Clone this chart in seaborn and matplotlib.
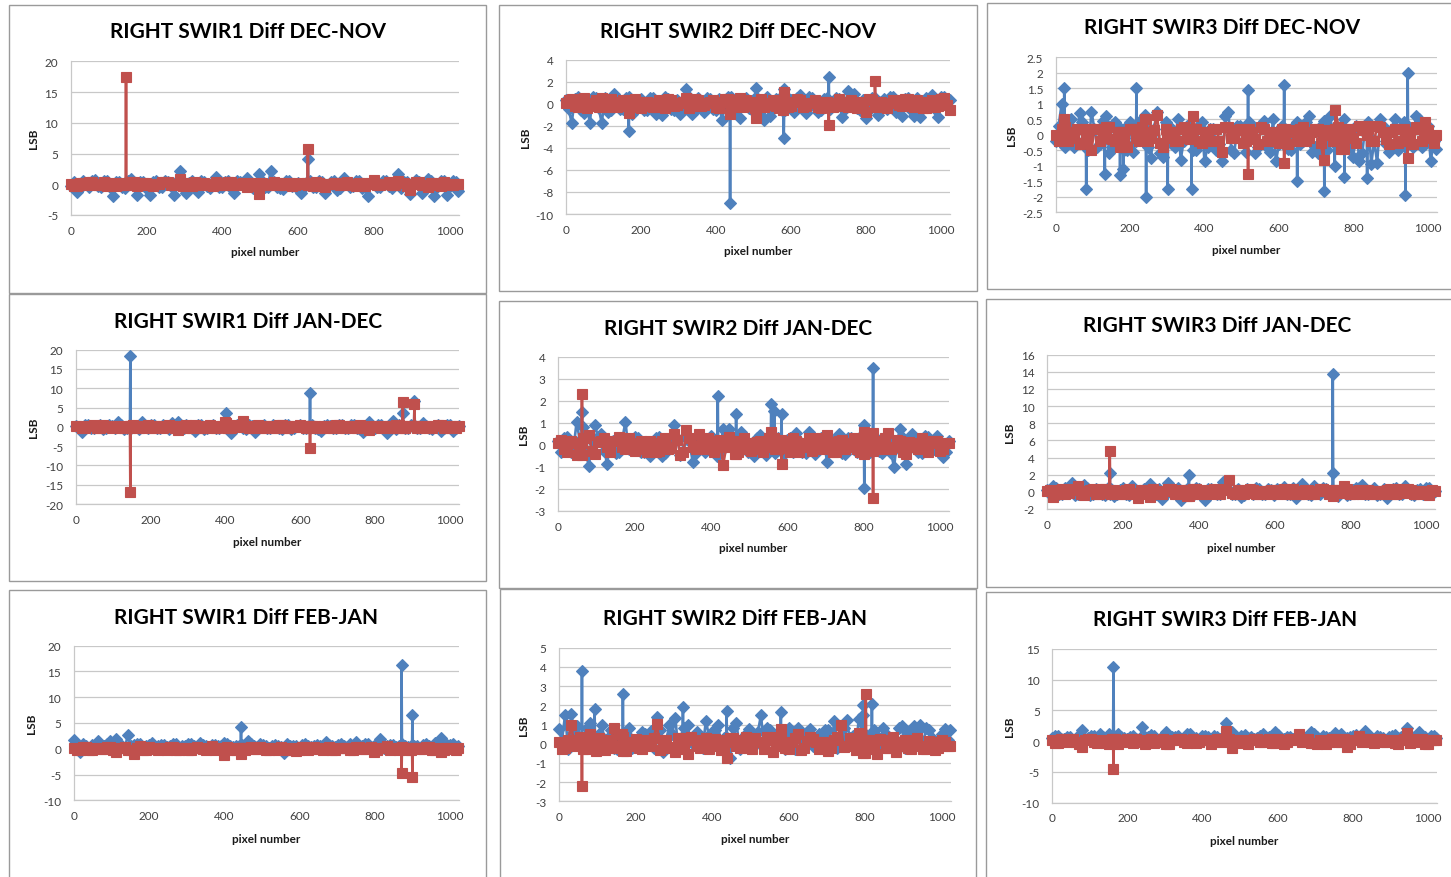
import matplotlib
matplotlib.use("Agg")
import pandas as pd
import seaborn as sns
import matplotlib.pyplot as plt
from matplotlib.patches import Rectangle

# ---------------------------------------------------------------------------
# Data: per-pixel differences (LSB) for the two detector halves
# (blue = even readout, red = odd readout).  The line is sampled on two
# interleaved pixel grids; the "stem" lists hold the isolated outliers
# together with their immediate neighbours.
# ---------------------------------------------------------------------------
PIXEL_GRID = [
    0, 16, 32, 48, 64, 80, 96, 112, 128, 144, 160, 176, 192,
    208, 224, 240, 256, 272, 288, 304, 320, 336, 352, 368, 384, 400,
    416, 432, 448, 464, 480, 496, 512, 528, 544, 560, 576, 592, 608,
    624, 640, 656, 672, 688, 704, 720, 736, 752, 768, 784, 800, 816,
    832, 848, 864, 880, 896, 912, 928, 944, 960, 976, 992, 1008, 1023,
]
PIXEL_MID = [
    8, 24, 40, 56, 72, 88, 104, 120, 136, 152, 168, 184, 200, 216, 232, 248,
    264, 280, 296, 312, 328, 344, 360, 376, 392, 408, 424, 440, 456, 472, 488, 504,
    520, 536, 552, 568, 584, 600, 616, 632, 648, 664, 680, 696, 712, 728, 744, 760,
    776, 792, 808, 824, 840, 856, 872, 888, 904, 920, 936, 952, 968, 984, 1000, 1016,
]
X_TICKS = [0, 200, 400, 600, 800, 1000]

# SWIR1 DEC-NOV
s1_dn_blue = [
    -0.3, -1.3, 0.6, -0.5, 0.7, -0.4, 0.5, -1.9, 0.4, -0.6, 0.9, -1.7, 0.3,
    -1.8, 0.6, -0.5, 0.4, -1.8, 2.2, -1.4, 0.5, -1.3, 0.3, -0.6, 1.2, -0.4,
    0.6, -1.4, 0.4, 1.0, -0.6, 1.6, -0.5, 2.2, -0.4, -0.8, 0.5, -0.3, -1.5,
    0.4, -0.5, 0.6, -1.4, 0.3, -1.0, 1.0, -0.4, 0.5, -0.6, -1.9, 0.4, -0.5,
    0.5, -0.6, 1.6, 0.4, -1.6, 0.7, -1.4, 0.8, -1.9, 0.5, -1.8, 0.6, -1.1,
]
s1_dn_blue_mid = [
    0.4, -0.6, 0.2, 0.5, -0.3, 0.6, -0.5, 0.3, -0.4, 0.5, -0.2, 0.4, -0.6, 0.3, -0.5, 0.6,
    -0.3, 0.5, -0.6, 0.2, -0.4, 0.6, -0.3, 0.4, -0.5, 0.3, -0.6, 0.5, -0.2, 0.4, -0.5, 0.6,
    -0.4, 0.3, -0.6, 0.5, -0.3, 0.2, -0.5, 0.6, -0.4, 0.3, -0.2, 0.5, -0.6, 0.4, -0.3, 0.6,
    -0.5, 0.2, -0.4, 0.6, -0.3, 0.5, -0.6, 0.4, -0.2, 0.3, -0.5, 0.6, -0.4, 0.5, -0.3, 0.4,
]
s1_dn_red = [
    0.0, -0.3, 0.2, 0.3, -0.2, 0.1, -0.3, 0.2, -0.2, 0.1, 0.3, -0.3, 0.2,
    -0.2, 0.1, 0.3, 0.4, -0.2, 0.9, 0.2, -0.3, 0.1, 0.2, -0.2, 0.3, -0.1,
    0.3, -0.2, 0.1, -0.5, 0.2, -1.6, 0.1, -0.2, 0.2, -0.1, 0.2, -0.2, 0.1,
    0.2, -0.3, 0.2, -0.4, 0.1, 0.2, -0.2, 0.1, -0.3, 0.2, 0.1, 0.7, -0.2,
    0.1, -0.2, 0.6, 0.2, -1.0, 0.3, -0.2, -0.5, 0.2, -0.3, 0.1, -0.2, 0.0,
]
s1_dn_red_mid = [
    -0.3, 0.2, -0.1, 0.3, -0.2, 0.3, 0.1, -0.3, 0.2, -0.2, 0.3, -0.1, 0.2, -0.3, 0.1, 0.3,
    -0.2, 0.1, -0.3, 0.2, 0.3, -0.2, 0.1, -0.3, 0.2, -0.1, 0.3, -0.2, 0.2, -0.3, 0.1, 0.2,
    -0.2, 0.3, -0.1, 0.2, -0.3, 0.2, 0.1, -0.2, 0.3, -0.3, 0.1, 0.2, -0.2, 0.3, -0.1, 0.2,
    -0.3, 0.2, -0.2, 0.1, 0.3, -0.2, 0.2, -0.3, 0.1, 0.3, -0.2, 0.2, -0.1, 0.3, -0.2, 0.1,
]
s1_dn_stem_px = [145, 146, 147, 625, 626, 627]
s1_dn_stem_blue = [0.2, 0.3, -0.2, 0.1, 4.1, 0.2]
s1_dn_stem_red = [0.1, 17.5, -0.1, 0.2, 5.8, -0.1]

# SWIR2 DEC-NOV
s2_dn_blue = [
    0.3, -1.75, 0.6, -0.8, -1.75, 0.5, -1.75, -0.7, 0.9, -0.5, 0.5, -0.9, 0.3,
    -0.6, 0.5, -0.9, -1.0, 0.4, -0.6, -0.9, 1.3, -0.9, 0.5, -0.7, 0.4, -0.6,
    -1.5, 0.6, -0.5, -1.3, 0.5, -0.6, 0.4, -1.5, -1.1, 0.4, -0.6, 0.5, -0.7,
    0.8, -0.8, 0.5, -0.7, 0.4, -0.5, 0.5, -1.2, 1.2, 0.9, -0.6, -1.3, 0.5,
    -1.0, 0.4, 0.6, -0.7, -1.1, 0.5, -1.1, -1.2, 0.5, 0.8, -1.2, 0.6, 0.3,
]
s2_dn_blue_mid = [
    -0.5, 0.4, -0.6, 0.3, 0.6, -0.4, 0.5, -0.6, 0.2, -0.5, 0.6, -0.3, 0.4, -0.6, 0.5, -0.2,
    0.6, -0.5, 0.3, -0.4, 0.6, -0.6, 0.2, 0.5, -0.5, 0.4, -0.3, 0.6, -0.6, 0.3, -0.4, 0.5,
    -0.2, 0.6, -0.5, 0.4, -0.6, 0.3, 0.5, -0.4, 0.6, -0.3, -0.6, 0.5, -0.2, 0.4, -0.5, 0.6,
    -0.4, 0.3, -0.6, 0.5, 0.2, -0.5, 0.6, -0.3, 0.4, -0.6, 0.5, -0.4, 0.3, -0.5, 0.6, -0.2,
]
s2_dn_red = [
    0.1, 0.4, -0.3, 0.5, -0.2, 0.3, 0.5, -0.3, 0.2, -0.2, 0.3, -0.3, 0.2,
    -0.2, 0.1, -0.3, 0.2, 0.4, -0.2, 0.1, 0.5, -0.2, 0.3, -0.1, 0.2, -0.3,
    0.2, 0.4, -0.3, 0.5, 0.3, -0.2, 0.2, -0.3, 0.1, -0.2, 0.3, -0.3, 0.2,
    0.3, -0.2, 0.1, -0.3, 0.2, 0.1, -0.2, 0.2, -0.3, 0.1, 0.2, -0.7, 0.3,
    0.2, -0.3, 0.1, 0.3, -0.2, 0.4, -0.3, 0.2, -0.4, 0.3, -0.2, 0.5, -0.6,
]
s2_dn_red_mid = [
    0.3, -0.2, 0.4, -0.4, 0.1, -0.3, 0.2, 0.4, -0.3, 0.3, -0.1, 0.4, -0.4, 0.2, -0.3, 0.3,
    -0.4, 0.3, -0.1, 0.2, -0.4, 0.4, -0.2, 0.1, 0.3, -0.4, 0.4, -0.2, 0.3, -0.3, 0.2, -0.4,
    0.4, -0.1, 0.3, -0.4, 0.2, -0.2, 0.4, -0.3, 0.1, 0.3, -0.4, 0.2, -0.3, 0.4, -0.2, 0.3,
    -0.4, 0.1, 0.4, -0.3, 0.2, -0.4, 0.3, -0.1, 0.4, -0.2, 0.3, -0.4, 0.2, -0.3, 0.4, -0.1,
]
s2_dn_stem_px = [167, 168, 169, 437, 438, 439, 507, 508, 509,
                 580, 581, 583, 585, 700, 701, 702, 823, 824, 825]
s2_dn_stem_blue = [0.3, -2.5, 0.2, 0.2, -9.0, 0.3, 0.1, 1.4, -0.2,
                   0.2, -3.1, 1.3, 0.1, 0.1, 2.4, -0.2, 0.2, 0.3, -0.1]
s2_dn_stem_red = [0.1, -0.8, 0.2, 0.1, -0.9, 0.2, 0.1, -1.3, 0.0,
                  -0.6, 0.1, 1.1, 0.2, 0.0, -1.9, 0.1, 0.1, 2.1, -0.2]

# SWIR3 DEC-NOV
s3_dn_blue = [
    -0.2, 1.0, 0.3, -0.4, 0.7, -0.3, 0.75, -0.4, 0.45, -0.6, 0.4, -0.3, -0.5,
    -0.55, 0.3, 0.65, -0.75, 0.75, -0.7, 0.3, -0.4, -0.8, 0.3, -0.5, 0.3, -0.85,
    0.2, -0.5, -0.85, 0.75, -0.6, 0.3, -0.55, 0.3, -0.4, 0.45, -0.55, -0.85, 0.3,
    -0.45, 0.3, -0.3, 0.4, -0.55, -0.6, 0.45, 0.6, -0.3, 0.3, -0.4, -0.7, -0.85,
    0.3, -0.95, -0.9, 0.3, -0.55, 0.5, -0.3, 0.3, -0.4, 0.5, -0.3, -0.85, -0.45,
]
s3_dn_blue_mid = [
    0.3, -0.4, 0.5, -0.2, 0.4, -0.5, 0.2, -0.3, 0.6, -0.4, 0.3, -0.5, 0.4, -0.2, 0.5, -0.4,
    0.2, -0.6, 0.4, -0.3, 0.5, -0.2, 0.3, -0.5, 0.4, -0.4, 0.2, -0.3, 0.6, -0.5, 0.3, -0.2,
    0.4, -0.6, 0.3, -0.4, 0.5, -0.3, 0.2, -0.5, 0.4, -0.2, 0.6, -0.4, 0.3, -0.5, 0.2, -0.3,
    0.5, -0.4, 0.3, -0.6, 0.4, -0.2, 0.5, -0.3, 0.2, -0.5, 0.4, -0.3, 0.6, -0.4, 0.3, -0.2,
]
s3_dn_red = [
    0.0, 0.2, -0.2, 0.1, -0.3, 0.2, -0.5, 0.2, -0.1, 0.25, -0.2, 0.1, -0.4,
    0.2, -0.2, 0.5, -0.1, 0.65, -0.4, 0.1, -0.2, 0.2, -0.1, 0.6, -0.2, 0.1,
    -0.2, 0.2, -0.55, 0.25, -0.1, 0.2, -0.2, 0.1, -0.3, 0.2, 0.1, -0.2, 0.2,
    -0.3, 0.1, 0.2, -0.2, 0.1, 0.2, -0.8, 0.1, 0.8, -0.45, 0.2, -0.1, 0.3,
    0.3, -0.2, 0.3, 0.1, -0.3, 0.2, -0.2, 0.1, -0.3, 0.2, 0.4, -0.1, 0.0,
]
s3_dn_red_mid = [
    -0.2, 0.25, -0.1, 0.2, -0.25, 0.1, 0.2, -0.2, 0.25, -0.15, 0.1, -0.25, 0.2, -0.1, 0.25, -0.2,
    0.15, -0.25, 0.2, 0.1, -0.2, 0.25, -0.15, 0.2, -0.25, 0.1, 0.2, -0.2, 0.25, -0.1, 0.15, -0.25,
    0.2, -0.15, 0.25, -0.2, 0.1, -0.25, 0.2, 0.15, -0.2, 0.25, -0.1, 0.2, -0.25, 0.15, -0.2, 0.25,
    -0.1, 0.2, -0.25, 0.15, 0.2, -0.2, 0.25, -0.15, 0.1, -0.25, 0.2, -0.1, 0.25, -0.2, 0.15, -0.25,
]
s3_dn_stem_px = [22, 23, 24, 81, 82, 83, 131, 132, 133, 172, 173, 174,
                 181, 182, 183, 216, 217, 218, 242, 243, 244, 300, 301, 302,
                 364, 365, 366, 516, 517, 518, 613, 614, 615, 648, 649, 650,
                 721, 722, 723, 749, 750, 751, 775, 776, 777, 836, 837, 838,
                 939, 940, 941, 945, 946, 947]
s3_dn_stem_blue = [0.1, 1.5, -0.1, 0.2, -1.75, 0.1, 0.1, -1.25, 0.2, 0.1, -1.3, 0.1,
                   0.0, -1.1, 0.2, -0.1, 1.5, 0.1, 0.1, -2.0, 0.2, 0.1, -1.75, 0.1,
                   0.2, -1.75, 0.0, 0.1, 1.45, 0.0, 0.1, 1.6, 0.0, 0.0, -1.5, 0.1,
                   0.1, -1.8, 0.1, 0.1, -1.0, 0.1, 0.0, -1.35, 0.1, 0.1, -1.4, 0.0,
                   0.1, -1.95, 0.0, 0.1, 2.0, 0.1]
s3_dn_stem_red = [0.1, 0.5, 0.2, 0.1, -0.2, 0.1, 0.2, 0.0, -0.1, -0.1, -0.4, 0.1,
                  0.1, -0.3, 0.0, 0.1, 0.2, -0.1, 0.5, 0.1, 0.0, 0.0, -0.1, 0.1,
                  0.1, 0.0, 0.2, 0.0, -1.25, 0.1, 0.1, -0.9, 0.0, 0.1, -0.1, 0.0,
                  0.1, 0.0, 0.1, 0.1, 0.2, 0.1, 0.1, -0.45, 0.0, 0.3, 0.0, 0.1,
                  0.1, -0.2, 0.1, -0.1, -0.75, 0.1]

# SWIR1 JAN-DEC
s1_jd_blue = [
    0.3, -1.3, 0.4, -0.3, 0.5, -0.4, 0.3, 1.3, -0.5, 0.4, 0.3, 1.2, -0.2,
    0.4, -0.3, 0.3, 1.0, 1.2, -0.4, 0.3, -1.2, 0.4, -0.3, 0.5, -0.4, 0.3,
    -1.5, 0.4, -0.3, 0.5, -1.3, 0.3, -0.4, 0.5, -0.3, 0.4, -0.5, 0.3, -0.4,
    0.3, -0.4, -1.2, 0.5, -0.3, 0.4, -0.3, 0.5, -0.4, -1.3, 1.2, -0.3, 0.4,
    -1.5, 1.5, 0.4, -0.3, 0.4, -0.3, 1.0, -0.4, 0.3, -1.0, 0.4, -1.0, 0.3,
]
s1_jd_blue_mid = [
    -0.4, 0.5, -0.2, 0.3, -0.5, 0.4, -0.3, 0.5, -0.4, 0.2, -0.5, 0.3, 0.5, -0.3, 0.4, -0.5,
    0.3, -0.4, 0.5, -0.2, 0.4, -0.5, 0.3, -0.3, 0.5, -0.4, 0.2, 0.4, -0.5, 0.3, -0.2, 0.5,
    -0.4, 0.3, -0.5, 0.4, -0.3, 0.5, -0.2, 0.4, -0.5, 0.3, 0.2, -0.4, 0.5, -0.3, 0.4, -0.5,
    0.3, -0.2, 0.5, -0.4, 0.4, -0.5, 0.3, -0.3, 0.5, -0.4, 0.2, -0.5, 0.4, -0.3, 0.5, -0.2,
]
s1_jd_red = [
    0.2, -0.3, 0.1, 0.4, -0.2, 0.3, -0.4, 0.2, -0.3, 0.1, 0.3, -0.2, 0.4,
    -0.3, 0.2, -0.1, 0.3, -0.8, 0.2, -0.3, 0.4, -0.2, 0.3, -0.4, 0.2, 1.2,
    -0.2, 0.3, 1.4, -0.3, 0.2, -0.4, 0.3, -0.2, 0.4, -0.3, 0.2, -0.1, 0.3,
    -0.2, 0.3, -0.4, 0.2, -0.3, 0.4, -0.2, 0.3, -0.4, 0.2, -0.8, 0.3, -0.2,
    0.3, -0.2, 0.4, -0.3, 0.2, -0.4, 0.3, -0.2, 0.3, 0.4, -0.3, 0.2, 0.1,
]
s1_jd_red_mid = [
    0.3, -0.4, 0.2, -0.3, 0.4, -0.1, 0.3, -0.4, 0.2, 0.4, -0.3, 0.1, -0.4, 0.3, -0.2, 0.4,
    -0.3, 0.2, 0.4, -0.4, 0.1, -0.3, 0.4, -0.2, 0.3, -0.4, 0.4, -0.1, 0.2, -0.3, 0.4, -0.4,
    0.3, -0.2, 0.4, -0.3, 0.1, 0.4, -0.4, 0.2, -0.3, 0.3, -0.4, 0.4, -0.2, 0.1, -0.3, 0.4,
    -0.4, 0.3, -0.1, 0.2, -0.4, 0.4, -0.3, 0.2, 0.3, -0.4, 0.1, -0.2, 0.4, -0.3, 0.3, -0.4,
]
s1_jd_stem_px = [145, 146, 147, 401, 402, 403, 625, 626, 627, 873, 874, 875, 904, 905, 906]
s1_jd_stem_blue = [0.3, 18.3, -0.2, 0.2, 3.7, -0.3, 0.2, 8.8, -0.3, 0.3, 3.7, 0.2, 0.2, 6.8, -0.1]
s1_jd_stem_red = [-0.2, -16.9, 0.3, 0.1, 0.9, -0.2, 0.1, -5.6, 0.2, 0.1, 6.4, -0.2, 0.3, 5.8, 0.1]

# SWIR2 JAN-DEC
s2_jd_blue = [
    0.2, 0.3, -0.3, 1.05, 0.8, -0.95, 0.9, 0.5, -0.85, 0.2, -0.3, 1.05, -0.2,
    0.3, -0.3, -0.5, 0.3, -0.5, 0.2, 0.9, -0.45, 0.3, -0.75, 0.2, -0.3, 0.4,
    -0.5, 0.75, 0.75, 0.3, 0.6, -0.3, -0.5, 0.45, -0.45, -0.2, 0.3, -0.4, 0.3,
    0.55, -0.3, 0.6, -0.4, 0.3, -0.75, 0.2, 0.5, -0.4, 0.3, -0.3, 0.9, -0.3,
    0.3, -0.35, 0.2, -1.0, 0.75, -0.85, 0.5, -0.3, 0.4, -0.2, 0.4, -0.55, 0.2,
]
s2_jd_blue_mid = [
    -0.3, 0.35, -0.15, 0.25, -0.35, 0.2, 0.35, -0.25, 0.1, -0.35, 0.3, -0.2, 0.35, -0.3, 0.15, -0.25,
    0.35, -0.35, 0.2, 0.3, -0.25, 0.15, -0.35, 0.35, -0.2, 0.25, -0.3, 0.1, 0.35, -0.35, 0.2, -0.15,
    0.3, -0.25, 0.35, -0.35, 0.15, 0.25, -0.3, 0.2, -0.35, 0.35, -0.1, 0.3, -0.25, 0.2, -0.35, 0.3,
    -0.2, 0.35, -0.3, 0.15, -0.25, 0.35, -0.35, 0.2, 0.3, -0.15, 0.25, -0.35, 0.35, -0.2, 0.1, -0.3,
]
s2_jd_red = [
    0.1, -0.2, 0.2, -0.45, 0.3, 0.45, -0.4, 0.2, -0.1, 0.2, 0.35, -0.2, 0.1,
    -0.2, 0.1, 0.2, -0.3, 0.2, -0.2, 0.5, -0.45, 0.7, -0.1, 0.5, -0.2, 0.2,
    0.1, -0.9, 0.35, -0.4, -0.2, 0.1, -0.2, 0.2, -0.1, 0.3, -0.2, 0.1, -0.3,
    0.2, -0.1, 0.3, -0.2, 0.1, 0.45, -0.3, 0.2, -0.2, 0.1, -0.2, 0.2, -0.1,
    0.2, -0.2, 0.55, -0.1, 0.2, -0.4, 0.1, -0.2, 0.2, 0.1, 0.2, -0.2, 0.1,
]
s2_jd_red_mid = [
    0.25, -0.3, 0.1, -0.2, 0.3, -0.25, 0.15, 0.3, -0.3, 0.2, -0.1, 0.3, -0.25, 0.2, -0.3, 0.1,
    -0.25, 0.3, -0.15, 0.25, -0.3, 0.3, -0.2, 0.1, 0.3, -0.3, 0.25, -0.1, 0.2, -0.3, 0.3, -0.25,
    0.15, -0.3, 0.3, -0.2, 0.25, -0.15, 0.3, -0.3, 0.1, -0.25, 0.3, -0.2, 0.15, -0.3, 0.25, -0.1,
    0.3, -0.3, 0.2, -0.25, 0.1, 0.3, -0.2, 0.25, -0.3, 0.15, -0.1, 0.3, -0.3, 0.2, -0.25, 0.1,
]
s2_jd_stem_px = [61, 62, 63, 417, 418, 419, 465, 466, 467, 557, 558, 559,
                 565, 566, 567, 584, 585, 586, 801, 802, 803, 824, 825, 826]
s2_jd_stem_blue = [0.2, 1.5, -0.2, 0.1, 2.25, -0.2, 0.1, 1.4, 0.2, 0.2, 1.85, 0.1,
                   0.2, 1.55, 0.1, 0.1, 1.4, 0.2, 0.3, -1.95, 0.2, 0.2, 3.5, 0.1]
s2_jd_stem_red = [-0.45, 2.3, 0.1, 0.2, 0.1, -0.1, -0.4, 0.1, 0.2, 0.1, 0.6, 0.2,
                  0.1, 0.3, -0.1, 0.1, -0.85, 0.2, 0.6, -0.4, 0.1, 0.1, -2.4, 0.55]

# SWIR3 JAN-DEC
s3_jd_blue = [
    0.2, 0.7, -0.3, 0.4, 1.0, -0.2, 0.8, -0.4, 0.3, -0.3, 0.4, -0.5, 0.2,
    -0.3, 0.7, -0.2, 0.3, 0.9, -0.3, -0.8, 1.0, 0.2, -0.9, 0.3, -0.4, 0.3,
    -1.0, 0.3, -0.3, 1.2, 0.2, -0.3, -0.6, 0.3, -0.2, 0.3, -0.3, 0.2, 0.3,
    0.6, -0.2, -0.7, 0.9, -0.3, 0.7, -0.2, 0.3, 0.2, -0.5, 0.3, -0.2, 0.4,
    0.8, -0.2, 0.5, -0.3, -0.7, 0.3, -0.2, 0.7, -0.3, 0.2, -0.2, 0.4, 0.1,
]
s3_jd_blue_mid = [
    -0.3, 0.4, -0.2, 0.3, -0.4, 0.2, 0.4, -0.3, 0.1, -0.4, 0.3, -0.2, 0.4, -0.4, 0.2, -0.3,
    0.4, -0.1, 0.3, -0.4, 0.2, 0.4, -0.3, -0.2, 0.4, -0.4, 0.3, 0.1, -0.3, 0.4, -0.2, 0.3,
    -0.4, 0.2, 0.4, -0.3, 0.3, -0.4, 0.1, -0.2, 0.4, -0.3, 0.3, -0.4, 0.2, 0.4, -0.1, -0.3,
    0.3, -0.4, 0.2, 0.4, -0.3, 0.1, -0.4, 0.3, -0.2, 0.4, -0.3, 0.2, -0.4, 0.3, 0.4, -0.2,
]
s3_jd_red = [
    0.1, -0.6, 0.2, -0.3, 0.3, 0.7, -0.4, 0.2, -0.2, 0.3, -0.1, 0.2, -0.3,
    0.2, -0.3, -0.7, 0.2, -0.6, 0.1, -0.2, 0.3, -0.3, 0.2, -0.5, 0.3, -0.2,
    0.2, -0.3, 0.1, 0.3, 1.35, -0.2, 0.2, -0.1, 0.2, -0.3, 0.1, 0.2, -0.2,
    0.3, -0.2, 0.1, -0.3, 0.2, -0.2, 0.3, 0.1, -0.2, 0.2, 0.7, -0.3, 0.1,
    -0.2, 0.2, -0.3, 0.1, 0.2, -0.2, 0.3, -0.1, 0.2, -0.3, 0.1, -0.4, 0.1,
]
s3_jd_red_mid = [
    0.2, -0.3, 0.3, -0.1, 0.25, -0.3, 0.1, 0.3, -0.2, 0.3, -0.3, 0.15, -0.25, 0.3, -0.1, 0.2,
    -0.3, 0.3, -0.2, 0.1, 0.3, -0.3, 0.2, -0.15, 0.3, -0.25, 0.1, 0.3, -0.3, 0.2, -0.1, 0.25,
    -0.3, 0.3, -0.2, 0.15, -0.3, 0.25, 0.1, -0.3, 0.3, -0.2, 0.2, -0.3, 0.1, 0.3, -0.25, 0.2,
    -0.1, 0.3, -0.3, 0.2, 0.25, -0.3, 0.1, -0.2, 0.3, -0.3, 0.15, 0.3, -0.2, 0.1, -0.3, 0.2,
]
s3_jd_stem_px = [164, 165, 166, 373, 374, 375, 753, 754, 755, 756]
s3_jd_stem_blue = [0.2, 2.25, -0.3, 0.1, 2.0, 0.2, 0.2, 13.7, 2.2, -0.1]
s3_jd_stem_red = [0.1, 4.8, 0.2, 0.2, -0.5, 0.1, 0.1, -0.5, 0.2, 0.1]

# SWIR1 FEB-JAN
s1_fj_blue = [
    1.7, -0.6, 0.5, 0.8, 1.5, 0.6, 1.6, 1.8, 0.5, 2.6, 0.7, 1.0, 0.6,
    1.1, 0.5, 0.7, 0.6, 1.0, 0.5, 0.9, 0.6, 1.2, 0.5, 0.8, 0.6, 1.1,
    0.6, 0.5, 0.7, 1.6, 0.6, 1.0, 0.5, 0.6, 0.5, -0.8, 0.6, 0.5, 0.8,
    0.5, 0.6, 0.5, 1.3, 0.5, 0.8, 0.5, 1.0, 1.4, 0.6, 1.0, 0.5, 1.8,
    0.6, 0.7, 0.5, 0.6, 0.5, 0.6, 0.8, 0.6, 1.1, 2.0, 0.7, 1.0, 0.6,
]
s1_fj_blue_mid = [
    0.3, 0.9, 0.2, 0.7, 0.4, 1.0, 0.3, 0.8, 0.2, 0.6, 0.9, 0.3, 0.7, 0.1, 0.8, 0.4,
    1.0, 0.2, 0.6, 0.9, 0.3, 0.7, 0.2, 0.8, 0.5, 1.0, 0.3, 0.6, 0.2, 0.9, 0.4, 0.7,
    0.1, 0.8, 0.3, 1.0, 0.5, 0.2, 0.9, 0.4, 0.7, 0.2, 0.8, 0.3, 1.0, 0.4, 0.6, 0.2,
    0.9, 0.3, 0.7, 0.1, 0.8, 0.4, 1.0, 0.3, 0.6, 0.2, 0.9, 0.4, 0.7, 0.3, 0.8, 0.2,
]
s1_fj_red = [
    0.1, -0.2, 0.3, -0.3, 0.2, -0.1, 0.3, -0.7, 0.2, -0.2, -1.0, 0.5, -0.2,
    0.2, -0.3, 0.1, 0.3, -0.2, 0.2, -0.3, 0.1, 0.2, -0.2, 0.5, -0.1, -1.2,
    0.2, -0.3, 0.1, 0.2, -0.1, 0.3, -0.2, 0.1, -0.3, 0.2, -0.2, -0.5, 0.3,
    -0.2, 0.3, -0.1, 0.2, -0.3, 0.1, 0.2, -0.2, 0.3, -0.1, 0.2, -0.6, 0.1,
    0.5, 0.2, -0.2, 0.1, -0.3, 0.2, -0.1, 0.3, -0.2, -0.6, 0.2, -0.1, 0.1,
]
s1_fj_red_mid = [
    -0.2, 0.3, -0.3, 0.2, -0.1, 0.3, -0.2, 0.1, 0.3, -0.3, 0.2, -0.2, 0.3, -0.1, 0.2, -0.3,
    0.3, -0.2, 0.1, -0.3, 0.3, -0.1, 0.2, -0.3, 0.1, 0.3, -0.2, 0.2, -0.3, 0.3, -0.1, 0.2,
    -0.3, 0.1, 0.3, -0.2, 0.2, -0.3, 0.3, -0.1, 0.2, -0.2, 0.3, -0.3, 0.1, 0.2, -0.2, 0.3,
    -0.1, 0.3, -0.3, 0.2, -0.2, 0.1, 0.3, -0.3, 0.2, -0.1, 0.3, -0.2, 0.1, -0.3, 0.2, -0.2,
]
s1_fj_stem_px = [444, 445, 446, 871, 872, 873, 900, 901, 902]
s1_fj_stem_blue = [0.6, 4.3, 0.5, 0.5, 16.3, 0.6, 0.6, 6.5, 0.5]
s1_fj_stem_red = [0.1, -1.0, 0.2, 0.2, -4.7, 0.1, 0.1, -5.4, 0.2]

# SWIR2 FEB-JAN
s2_fj_blue = [
    0.75, 1.5, 1.55, 0.9, 0.3, 1.1, 0.2, 1.0, 0.3, -0.2, 0.4, 0.5, -0.2,
    0.3, 0.5, 0.65, 1.4, -0.45, 1.0, 1.35, 0.3, 1.0, 0.2, 0.4, 1.2, 0.6,
    1.0, 0.3, -0.75, 1.1, 0.3, 0.75, 0.2, 1.5, 0.8, 0.3, 0.4, -0.3, 0.4,
    0.8, 0.3, 0.75, 0.2, 0.4, 0.7, 1.2, 0.3, 1.25, 0.4, 1.3, 0.5, 0.4,
    0.4, 0.8, 0.3, 0.2, 0.9, 0.6, 0.9, 1.0, 0.8, 0.3, 0.2, 0.75, 0.7,
]
s2_fj_blue_mid = [
    0.2, -0.3, 0.6, 0.1, 0.8, -0.2, 0.5, 0.0, 0.7, -0.3, 0.4, 0.8, -0.1, 0.6, 0.2, -0.2,
    0.7, 0.0, 0.5, -0.3, 0.8, 0.1, 0.6, -0.2, 0.4, 0.7, -0.1, 0.3, 0.8, -0.3, 0.5, 0.1,
    0.6, -0.2, 0.7, 0.0, 0.4, 0.8, -0.3, 0.2, 0.6, -0.1, 0.5, 0.7, 0.0, -0.2, 0.8, 0.3,
    -0.1, 0.6, 0.2, 0.7, -0.3, 0.5, 0.1, 0.8, -0.2, 0.4, 0.6, 0.0, 0.7, -0.1, 0.5, 0.2,
]
s2_fj_red = [
    0.1, -0.2, 0.95, 0.2, -0.3, 0.5, -0.4, 0.2, -0.2, 0.8, 0.5, -0.4, 0.1,
    -0.2, 0.2, -0.1, 1.05, 0.2, -0.2, -0.45, 0.3, -0.55, 0.2, -0.2, 0.3, -0.1,
    0.2, -0.2, 0.3, -0.1, 0.2, -0.2, 0.3, 0.1, 0.35, -0.45, 0.2, -0.2, 0.1,
    0.5, -0.2, 0.35, 0.1, -0.2, -0.4, 0.2, 0.95, -0.1, 0.2, 0.55, -0.3, 0.2,
    -0.55, 0.2, -0.2, -0.45, 0.1, -0.2, 0.2, -0.1, -0.25, 0.1, -0.2, 0.1, -0.1,
]
s2_fj_red_mid = [
    -0.3, 0.2, -0.1, 0.35, -0.25, 0.1, 0.3, -0.35, 0.2, -0.2, 0.35, -0.1, 0.25, -0.3, 0.1, 0.3,
    -0.35, 0.2, -0.15, 0.3, -0.25, 0.35, -0.1, 0.2, -0.3, 0.25, -0.35, 0.1, 0.3, -0.2, 0.35, -0.25,
    0.1, -0.3, 0.2, 0.35, -0.1, -0.25, 0.3, -0.35, 0.15, 0.25, -0.3, 0.1, -0.2, 0.35, -0.15, 0.3,
    -0.35, 0.2, 0.1, -0.3, 0.25, -0.2, 0.35, -0.1, 0.2, -0.3, 0.3, -0.25, 0.15, -0.35, 0.2, -0.1,
]
s2_fj_stem_px = [59, 60, 61, 92, 93, 94, 166, 167, 168, 323, 324, 325, 437, 438, 439,
                 579, 580, 581, 794, 795, 796, 801, 802, 803, 817, 818, 819]
s2_fj_stem_blue = [0.3, 3.8, 0.2, 0.2, 1.8, 0.3, 0.2, 2.6, 0.3, 0.3, 1.9, 0.2, 0.2, 1.7, 0.3,
                   0.3, 1.65, 0.2, 0.5, 2.0, 1.5, 0.3, 0.2, 0.4, 0.3, 2.05, 0.4]
s2_fj_stem_red = [0.1, -2.2, 0.2, 0.2, -0.1, 0.1, 0.5, -0.4, 0.2, 0.1, 0.2, -0.1, 0.1, -0.75, 0.2,
                  0.1, 0.75, 0.2, 0.2, 0.1, -0.5, -0.5, 2.6, 0.1, 0.2, 0.1, -0.2]

# SWIR3 FEB-JAN
s3_fj_blue = [
    0.5, 0.8, 0.3, 0.7, 0.4, 1.85, 0.5, 0.8, 1.2, 0.4, 0.6, 1.2, 0.5,
    0.7, 0.4, 2.25, 0.6, 0.8, 0.4, 1.5, 0.6, 0.8, 0.4, 1.2, 0.5, 0.9,
    0.6, 0.8, 0.4, 2.95, 1.5, 0.4, 1.0, 0.6, 0.5, 1.1, 0.6, 1.4, 0.5,
    0.7, 0.4, 0.8, 0.5, 1.4, 0.6, 0.8, 0.5, 1.3, 1.2, 0.5, 0.8, 0.6,
    1.7, 0.6, 0.8, 0.5, 0.7, 1.0, 0.6, 2.1, 0.5, 1.5, 0.6, 0.8, 0.5,
]
s3_fj_blue_mid = [
    0.9, 0.3, 0.7, 0.2, 1.0, 0.4, 0.8, 0.3, 0.6, 1.1, 0.2, 0.7, 0.4, 0.9, 0.3, 0.6,
    1.0, 0.2, 0.8, 0.4, 0.7, 0.3, 1.1, 0.5, 0.2, 0.9, 0.4, 0.7, 0.3, 1.0, 0.2, 0.8,
    0.5, 0.3, 0.9, 0.2, 0.7, 1.0, 0.4, 0.6, 0.3, 0.8, 0.2, 1.1, 0.4, 0.7, 0.3, 0.9,
    0.2, 0.6, 1.0, 0.3, 0.8, 0.4, 0.7, 0.2, 0.9, 0.5, 0.3, 1.0, 0.4, 0.7, 0.2, 0.8,
]
s3_fj_red = [
    0.1, -0.3, 0.4, 0.2, -0.2, -0.9, 0.3, -0.2, 0.2, -0.3, 0.3, -0.5, 0.2,
    -0.2, 0.3, -0.1, 0.2, -0.3, 0.2, -0.5, 0.1, 0.3, -0.2, 0.2, -0.3, 0.1,
    0.2, -0.2, 0.3, 1.7, -1.2, 0.2, -0.3, 0.1, 0.3, -0.2, 0.4, -0.3, 0.2,
    -0.2, 0.3, 1.2, 0.2, -0.3, -0.5, 0.2, -0.2, 0.3, -0.1, -0.9, 0.2, 0.8,
    0.3, -0.2, 0.4, -0.1, 0.2, -0.3, 0.2, 1.3, 0.4, -0.2, -0.4, 0.2, 0.1,
]
s3_fj_red_mid = [
    -0.3, 0.4, -0.2, 0.3, -0.4, 0.1, 0.4, -0.3, 0.2, -0.4, 0.3, -0.1, 0.4, -0.3, 0.2, -0.4,
    0.3, -0.2, 0.4, -0.4, 0.1, 0.3, -0.3, 0.4, -0.2, 0.2, -0.4, 0.3, -0.1, 0.4, -0.3, 0.2,
    -0.4, 0.4, -0.2, 0.1, -0.3, 0.4, -0.4, 0.3, 0.2, -0.2, 0.4, -0.3, 0.1, -0.4, 0.3, -0.2,
    0.4, -0.4, 0.2, -0.1, 0.3, -0.3, 0.4, -0.2, 0.1, -0.4, 0.3, -0.3, 0.2, 0.4, -0.4, 0.1,
]
s3_fj_stem_px = [162, 163, 164]
s3_fj_stem_blue = [0.6, 12.0, 0.8]
s3_fj_stem_red = [0.2, -4.5, 0.3]

# y-axis tick values per chart
yt_s1_dn = [-5, 0, 5, 10, 15, 20]
yt_s2_dn = [-10, -8, -6, -4, -2, 0, 2, 4]
yt_s3_dn = [-2.5, -2, -1.5, -1, -0.5, 0, 0.5, 1, 1.5, 2, 2.5]
yt_s1_jd = [-20, -15, -10, -5, 0, 5, 10, 15, 20]
yt_s2_jd = [-3, -2, -1, 0, 1, 2, 3, 4]
yt_s3_jd = [-2, 0, 2, 4, 6, 8, 10, 12, 14, 16]
yt_s1_fj = [-10, -5, 0, 5, 10, 15, 20]
yt_s2_fj = [-3, -2, -1, 0, 1, 2, 3, 4, 5]
yt_s3_fj = [-10, -5, 0, 5, 10, 15]

TITLES = [
    "RIGHT SWIR1 Diff DEC-NOV", "RIGHT SWIR2 Diff DEC-NOV", "RIGHT SWIR3 Diff DEC-NOV",
    "RIGHT SWIR1 Diff JAN-DEC", "RIGHT SWIR2 Diff JAN-DEC", "RIGHT SWIR3 Diff JAN-DEC",
    "RIGHT SWIR1 Diff FEB-JAN", "RIGHT SWIR2 Diff FEB-JAN", "RIGHT SWIR3 Diff FEB-JAN",
]

SERIES = [
    (s1_dn_blue, s1_dn_blue_mid, s1_dn_red, s1_dn_red_mid, s1_dn_stem_px, s1_dn_stem_blue, s1_dn_stem_red, yt_s1_dn),
    (s2_dn_blue, s2_dn_blue_mid, s2_dn_red, s2_dn_red_mid, s2_dn_stem_px, s2_dn_stem_blue, s2_dn_stem_red, yt_s2_dn),
    (s3_dn_blue, s3_dn_blue_mid, s3_dn_red, s3_dn_red_mid, s3_dn_stem_px, s3_dn_stem_blue, s3_dn_stem_red, yt_s3_dn),
    (s1_jd_blue, s1_jd_blue_mid, s1_jd_red, s1_jd_red_mid, s1_jd_stem_px, s1_jd_stem_blue, s1_jd_stem_red, yt_s1_jd),
    (s2_jd_blue, s2_jd_blue_mid, s2_jd_red, s2_jd_red_mid, s2_jd_stem_px, s2_jd_stem_blue, s2_jd_stem_red, yt_s2_jd),
    (s3_jd_blue, s3_jd_blue_mid, s3_jd_red, s3_jd_red_mid, s3_jd_stem_px, s3_jd_stem_blue, s3_jd_stem_red, yt_s3_jd),
    (s1_fj_blue, s1_fj_blue_mid, s1_fj_red, s1_fj_red_mid, s1_fj_stem_px, s1_fj_stem_blue, s1_fj_stem_red, yt_s1_fj),
    (s2_fj_blue, s2_fj_blue_mid, s2_fj_red, s2_fj_red_mid, s2_fj_stem_px, s2_fj_stem_blue, s2_fj_stem_red, yt_s2_fj),
    (s3_fj_blue, s3_fj_blue_mid, s3_fj_red, s3_fj_red_mid, s3_fj_stem_px, s3_fj_stem_blue, s3_fj_stem_red, yt_s3_fj),
]

# ---------------------------------------------------------------------------
# Layout (figure pixels, y measured from the top)
#   plot: (left, right, top, bottom) of the plotting area
#   title: (centre x, baseline y); xlab_y / ylab_x: axis-title centres
#   box: (x0, y0, x1, y1) of the chart frame
# ---------------------------------------------------------------------------
W, H = 1451, 878
LAYOUT = [
    dict(plot=(70.7, 458.7, 62.3, 216.0), title=(247.5, 38.3), xlab_y=253, ylab_x=33, box=(9, 6, 486, 294)),
    dict(plot=(565.7, 950.0, 60.7, 215.0), title=(738, 37.7), xlab_y=252, ylab_x=525, box=(499, 6, 977, 292)),
    dict(plot=(1055.7, 1436.7, 58.3, 213.3), title=(1222, 34.3), xlab_y=251, ylab_x=1011, box=(987, 4, 1470, 290)),
    dict(plot=(75.7, 459.0, 350.7, 505.0), title=(248, 328), xlab_y=542, ylab_x=33, box=(9, 295, 486, 582)),
    dict(plot=(558.3, 949.0, 358.0, 512.0), title=(738, 335), xlab_y=549, ylab_x=524, box=(499, 302, 977, 589)),
    dict(plot=(1047.3, 1435.0, 355.7, 510.0), title=(1217, 332.3), xlab_y=548, ylab_x=1010, box=(986, 300, 1470, 588)),
    dict(plot=(73.7, 458.7, 646.7, 801.3), title=(246, 624), xlab_y=840, ylab_x=32, box=(9, 591, 486, 900)),
    dict(plot=(559.0, 950.7, 648.7, 802.3), title=(735, 625.3), xlab_y=840, ylab_x=524, box=(500, 590, 976, 900)),
    dict(plot=(1052.3, 1436.7, 649.7, 803.7), title=(1225, 626.3), xlab_y=842, ylab_x=1010, box=(986, 593, 1470, 900)),
]

BLUE = "#4F81BD"
RED = "#C0504D"
GRID = "#c8c8c8"
FRAME = "#9a9a9a"
TICK_TEXT = "#404040"

sns.set_theme(style="white")
plt.rcParams["font.family"] = ["Lato", "DejaVu Sans"]
plt.rcParams["axes.unicode_minus"] = False

fig = plt.figure(figsize=(W / 100, H / 100), dpi=100)
fig.patch.set_facecolor("white")


def series_frame(grid_vals, mid_vals, stem_px, stem_vals):
    assert len(grid_vals) == len(PIXEL_GRID)
    assert len(mid_vals) == len(PIXEL_MID)
    assert len(stem_px) == len(stem_vals)
    frame = pd.DataFrame({"pixel": PIXEL_GRID + PIXEL_MID + stem_px,
                          "LSB": grid_vals + mid_vals + stem_vals})
    return frame.sort_values("pixel", kind="stable")


for title, data, lay in zip(TITLES, SERIES, LAYOUT):
    blue, blue_mid, red, red_mid, stem_px, stem_blue, stem_red, yt = data
    L, R, T, B = lay["plot"]
    x0, y0, x1, y1 = lay["box"]
    fig.add_artist(Rectangle((x0 / W, 1 - y1 / H), (x1 - x0) / W, (y1 - y0) / H,
                             transform=fig.transFigure, fill=False,
                             edgecolor=FRAME, linewidth=1.0, zorder=0))

    ax = fig.add_axes([L / W, 1 - B / H, (R - L) / W, (B - T) / H])
    ax.set_facecolor("none")

    sns.lineplot(data=series_frame(blue, blue_mid, stem_px, stem_blue), x="pixel", y="LSB",
                 estimator=None, sort=False, ax=ax, color=BLUE, linewidth=1.9,
                 marker="D", markersize=6.0, markeredgecolor=BLUE,
                 markeredgewidth=0.8, clip_on=False, zorder=3)
    sns.lineplot(data=series_frame(red, red_mid, stem_px, stem_red), x="pixel", y="LSB",
                 estimator=None, sort=False, ax=ax, color=RED, linewidth=1.9,
                 marker="s", markersize=7.2, markeredgecolor=RED,
                 markeredgewidth=0.8, clip_on=False, zorder=4)

    ax.set_xlim(0, 1024)
    ax.set_ylim(yt[0], yt[-1])
    ax.set_xticks(X_TICKS)
    ax.set_xticklabels([str(v) for v in X_TICKS])
    ax.set_yticks(yt)
    ax.set_yticklabels([f"{v:g}" for v in yt])
    ax.set_xlabel("")
    ax.set_ylabel("")
    ax.grid(axis="y", color=GRID, linewidth=0.9)
    ax.grid(axis="x", visible=False)
    ax.set_axisbelow(True)
    for side in ("top", "right"):
        ax.spines[side].set_visible(False)
    for side in ("left", "bottom"):
        ax.spines[side].set_color(GRID)
        ax.spines[side].set_linewidth(0.9)
    ax.tick_params(axis="both", length=0, labelsize=8.5, labelcolor=TICK_TEXT)
    ax.tick_params(axis="y", pad=9)
    ax.tick_params(axis="x", pad=7)

    cx, base = lay["title"]
    fig.text(cx / W, 1 - base / H, title, ha="center", va="baseline",
             fontsize=15, fontweight="bold", color="black")
    fig.text((L + R) / 2 / W, 1 - lay["xlab_y"] / H, "pixel number", ha="center",
             va="center", fontsize=8.5, fontweight="bold", color="#1a1a1a")
    fig.text(lay["ylab_x"] / W, 1 - (T + B) / 2 / H, "LSB", ha="center", va="center",
             rotation=90, fontsize=8.5, fontweight="bold", color="#1a1a1a")

fig.savefig("out.png", dpi=100, facecolor="white")
